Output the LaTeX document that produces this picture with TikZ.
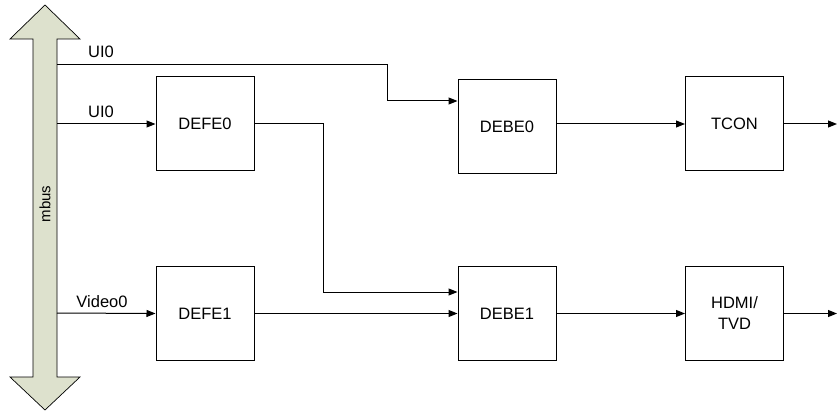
\documentclass[tikz,border=0pt]{standalone}
\usepackage{fontspec}
\setmainfont{Liberation Sans}
\usetikzlibrary{arrows.meta,positioning}
\definecolor{busfill}{RGB}{221,225,205}

\begin{document}
\begin{tikzpicture}[x=1pt,y=-1pt,>={Triangle[length=9pt,width=7pt]},
 line width=1pt,
 box/.style={draw,align=center,minimum width=98pt,minimum height=94pt,inner sep=2pt,font=\fontsize{16.5}{21}\selectfont},
 lbl/.style={anchor=base,font=\fontsize{16.5}{19}\selectfont}]
\useasboundingbox (0,0) rectangle (837,414);
% mbus double arrow
\draw[fill=busfill,line width=0.7pt] (45,5) -- (80,39) -- (57,39) -- (57,377) -- (80,377) -- (45,410)
 -- (10,377) -- (33,377) -- (33,39) -- (10,39) -- cycle;
\node[rotate=90,font=\fontsize{15}{17}\selectfont] (mbus) at (45,204) {mbus};
\coordinate (ui0a) at (57,65);
\coordinate (ui0b) at (57,124);
\coordinate (vid0) at (57,313);
% blocks
\node[box] (defe0) at (205,124) {DEFE0};
\node[box] (defe1) at (205,313.5) {DEFE1};
\node[box] (debe0) at (507,126.5) {DEBE0};
\node[box] (debe1) at (507,313.5) {DEBE1};
\node[box] (tcon) at (734.5,124) {TCON};
\node[box] (hdmi) at (734.5,313.5) {HDMI/\\TVD};
\coordinate (out0) at (837,124);
\coordinate (out1) at (837,313.5);
% labels
\node[lbl] (lui0a) at (101,58) {UI0};
\node[lbl] (lui0b) at (101,118) {UI0};
\node[lbl] (lvid0) at (102,307) {Video0};
% connections
\draw[->] (ui0a) -| (387,101) -- ([yshift=25.5pt]debe0.west);
\draw[->] (ui0b) -- (defe0.west);
\draw[->] (vid0) -- (defe1.west);
\draw[->] (defe0.east) -| (323,292) -- ([yshift=21.5pt]debe1.west);
\draw[->] (defe1.east) -- (debe1.west);
\draw[->] (debe0.east |- tcon.west) -- (tcon.west);
\draw[->] (debe1.east) -- (hdmi.west);
\draw[->] (tcon.east) -- (out0);
\draw[->] (hdmi.east) -- (out1);
\end{tikzpicture}
\end{document}
